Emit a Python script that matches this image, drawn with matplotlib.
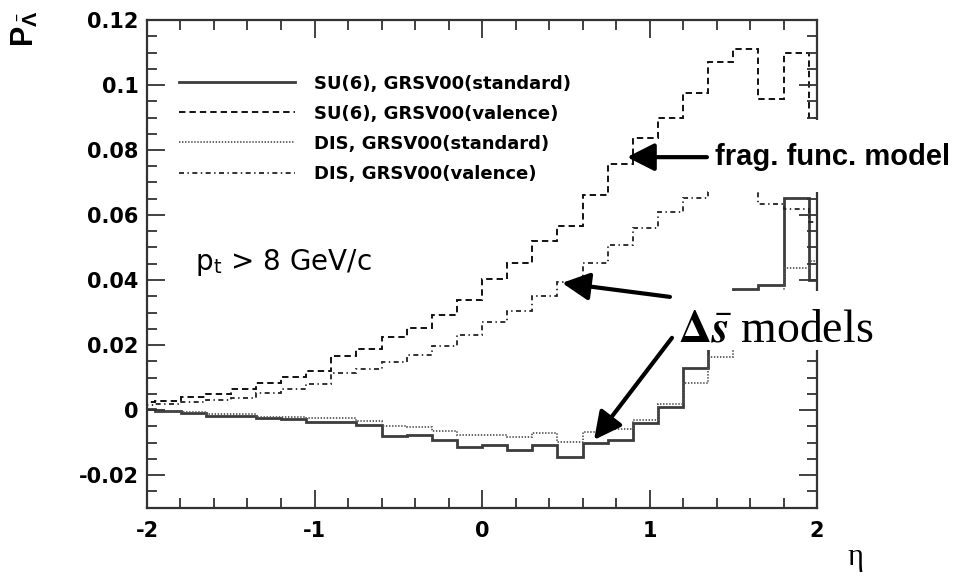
import numpy as np
import matplotlib
matplotlib.use("Agg")
import matplotlib.pyplot as plt
from matplotlib.patches import Rectangle
from matplotlib.ticker import MultipleLocator, FuncFormatter

plt.rcParams["axes.unicode_minus"] = False
plt.rcParams["lines.scale_dashes"] = False
plt.rcParams["mathtext.fontset"] = "stix"

# eta bins of width 0.15 (the outer two bins stick out past |eta| = 2)
edges = np.linspace(-2.1, 2.1, 29)

labels = [
    "SU(6), GRSV00(standard)",
    "SU(6), GRSV00(valence)",
    "DIS, GRSV00(standard)",
    "DIS, GRSV00(valence)",
]

su6_standard = [0.0002, -0.0004, -0.0008, -0.0017, -0.0019, -0.0025, -0.0027,
                -0.0036, -0.0037, -0.0047, -0.0080, -0.0077, -0.0092, -0.0113,
                -0.0108, -0.0123, -0.0108, -0.0146, -0.0101, -0.0092, -0.0041,
                0.0010, 0.0128, 0.0220, 0.0372, 0.0385, 0.0651, 0.0400]

su6_valence = [0.0024, 0.0027, 0.0041, 0.0050, 0.0064, 0.0082, 0.0101,
               0.0121, 0.0167, 0.0189, 0.0224, 0.0251, 0.0292, 0.0340,
               0.0403, 0.0451, 0.0520, 0.0565, 0.0662, 0.0757, 0.0836,
               0.0900, 0.0974, 0.1072, 0.1110, 0.0956, 0.1097, 0.0898]

dis_standard = [0.0000, -0.0002, -0.0006, -0.0012, -0.0012, -0.0021, -0.0021,
                -0.0026, -0.0026, -0.0033, -0.0050, -0.0052, -0.0066, -0.0078,
                -0.0076, -0.0082, -0.0072, -0.0097, -0.0067, -0.0059, -0.0031,
                0.0018, 0.0082, 0.0164, 0.0230, 0.0300, 0.0436, 0.0460]

dis_valence = [0.0015, 0.0018, 0.0026, 0.0031, 0.0038, 0.0053, 0.0064,
               0.0080, 0.0113, 0.0125, 0.0149, 0.0169, 0.0196, 0.0231,
               0.0272, 0.0305, 0.0352, 0.0395, 0.0451, 0.0508, 0.0559,
               0.0610, 0.0652, 0.0675, 0.0690, 0.0633, 0.0620, 0.0580]

W, H = 965, 583
fig = plt.figure(figsize=(W / 100, H / 100), dpi=100)
ax = fig.add_axes([147 / W, 1 - 507.5 / H, 670 / W, 487.5 / H])

ax.stairs(su6_standard, edges, baseline=None, color="#3c3c3c", lw=2.0,
          label=labels[0])
ax.stairs(su6_valence, edges, baseline=None, color="#111111", lw=1.4,
          linestyle=(0, (4.6, 2.9)), label=labels[1])
ax.stairs(dis_standard, edges, baseline=None, color="#555555", lw=1.3,
          linestyle=(0, (1.0, 1.2)), label=labels[2])
ax.stairs(dis_valence, edges, baseline=None, color="#222222", lw=1.3,
          linestyle=(0, (3.6, 2.5, 1.0, 2.5)), label=labels[3])

ax.set_xlim(-2, 2)
ax.set_ylim(-0.03, 0.12)
ax.xaxis.set_major_locator(MultipleLocator(1))
ax.xaxis.set_minor_locator(MultipleLocator(0.2))
ax.yaxis.set_major_locator(MultipleLocator(0.02))
ax.yaxis.set_minor_locator(MultipleLocator(0.005))


def fmt(v, pos):
    if abs(v) < 1e-9:
        return "0"
    return f"{v:g}"


ax.xaxis.set_major_formatter(FuncFormatter(fmt))
ax.yaxis.set_major_formatter(FuncFormatter(fmt))

ax.tick_params(which="both", direction="in", top=True, right=True,
               width=1.3, color="#333333")
ax.tick_params(which="major", length=13)
ax.tick_params(which="minor", length=7)
ax.tick_params(axis="x", pad=10)
ax.tick_params(axis="y", pad=6)
for lab in ax.get_xticklabels() + ax.get_yticklabels():
    lab.set_fontweight("bold")
    lab.set_fontsize(15)
    lab.set_family("DejaVu Sans")
for sp in ax.spines.values():
    sp.set_linewidth(1.6)
    sp.set_color("#333333")

ax.legend(loc="upper left", bbox_to_anchor=(0.0478, 0.888), frameon=False,
          borderpad=0, borderaxespad=0, handlelength=6.4, handletextpad=1.05,
          labelspacing=0.67,
          prop=dict(family="DejaVu Sans", weight="bold", size=13))

ax.text(-1.713, 0.0431, r"p$_\mathregular{t}$ > 8 GeV/c", family="DejaVu Sans",
        fontsize=20, ha="left", va="baseline")

# white label boxes laid over the plot
ax.add_patch(Rectangle((708 / W, 1 - 192 / H), 250 / W, 72 / H,
                       transform=fig.transFigure, facecolor="white",
                       edgecolor="none", clip_on=False, zorder=5))
ax.add_patch(Rectangle((668 / W, 1 - 350 / H), 240 / W, 59.5 / H,
                       transform=fig.transFigure, facecolor="white",
                       edgecolor="none", clip_on=False, zorder=5))

arrow = dict(arrowstyle="-|>,head_length=0.83,head_width=0.42", lw=3,
             color="black", shrinkA=0, shrinkB=0, mutation_scale=20)
ax.annotate("", xy=(0.866, 0.0778), xytext=(1.343, 0.0778),
            arrowprops=arrow, annotation_clip=False, zorder=6)
ax.annotate("", xy=(0.478, 0.0391), xytext=(1.122, 0.0348),
            arrowprops=arrow, annotation_clip=False, zorder=6)
ax.annotate("", xy=(0.669, -0.0092), xytext=(1.134, 0.0222),
            arrowprops=arrow, annotation_clip=False, zorder=6)

ax.text(1.391, 0.0778, "frag. func. model", family="Liberation Sans",
        weight="bold", fontsize=21, ha="left", va="center", zorder=7)
ax.text(1.17, 0.0210, r"$\mathbf{\Delta}\bar{\mathbfit{s}}$ models",
        family="Liberation Serif", fontsize=33, ha="left", va="baseline",
        zorder=7)

fig.text(26 / W, 1 - 10 / H, r"P$_{\bar{\mathregular{Λ}}}$", rotation=90,
         family="Liberation Sans", weight="bold", fontsize=22,
         ha="center", va="top")
fig.text(855 / W, 1 - 557 / H, "η", family="Liberation Serif", fontsize=22,
         ha="center", va="center")

fig.savefig("out.png", dpi=100)
